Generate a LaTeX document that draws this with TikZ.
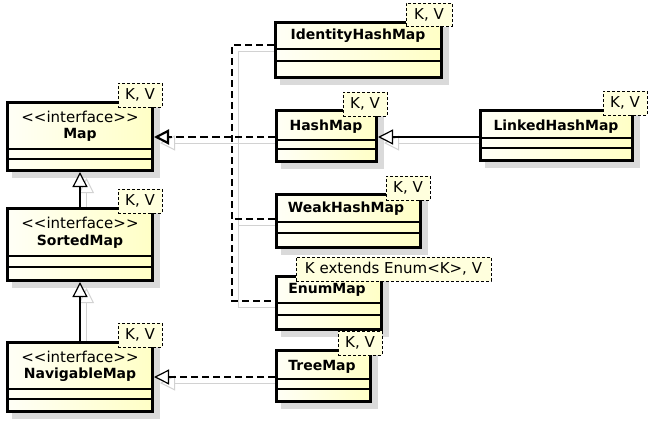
\documentclass[tikz,border=0pt]{standalone}
\usepackage{fontspec}
\setmainfont{DejaVu Sans}
\usetikzlibrary{arrows.meta,calc}
\definecolor{boxlight}{HTML}{FFFFF6}
\definecolor{boxdark}{HTML}{FFFFC6}
\definecolor{tmplfill}{HTML}{FFFFDD}
\definecolor{shadowgray}{HTML}{DADADA}
\definecolor{lineshadow}{HTML}{D2D2D2}
\tikzset{
  classbox/.style={draw=black, line width=3.2pt, left color=boxlight, right color=boxdark, rectangle, inner sep=0pt},
  boxshadow/.style={fill=shadowgray, draw=none},
  divider/.style={draw=black, line width=1.1pt},
  txt/.style={inner sep=0pt, font=\fontsize{15}{17}\selectfont},
  nametxt/.style={inner sep=0pt, font=\fontsize{14}{16}\selectfont\bfseries},
  tmpl/.style={draw=black, dash pattern=on 3pt off 2pt, line width=0.8pt, fill=tmplfill, inner sep=0pt, font=\fontsize{15}{17}\selectfont},
  realline/.style={draw=black, line width=1.2pt, dash pattern=on 7pt off 4pt},
  realize/.style={realline, -{Triangle[open, length=15pt, width=15pt, fill=white]}},
  generalize/.style={draw=black, line width=1.2pt, -{Triangle[open, length=15pt, width=15pt, fill=white]}},
  cshadow/.style={draw=lineshadow, line width=1pt, -{Triangle[open, length=15pt, width=15pt]}},
  cshadowplain/.style={draw=lineshadow, line width=1pt},
}
% #1 name, #2 l, #3 t, #4 r, #5 b, #6 d1, #7 d2
\newcommand\umlclass[7]{%
  \fill[boxshadow] (#2+6,#3+6) rectangle (#4+6,#5+6);
  \node[classbox, minimum width=#4pt-#2pt-3.2pt, minimum height=#5pt-#3pt-3.2pt] (#1) at ({(#2+#4)/2},{(#3+#5)/2}) {};
  \draw[divider] (#1.west |- 0,#6) -- (#1.east |- 0,#6);
  \draw[divider] (#1.west |- 0,#7) -- (#1.east |- 0,#7);
}
% #1 name, #2 l, #3 t, #4 r, #5 b, #6 text
\newcommand\umltmpl[6]{%
  \node[tmpl, minimum width=#4pt-#2pt, minimum height=#5pt-#3pt] (#1) at ({(#2+#4)/2},{(#3+#5)/2}) {#6};
}
\newcommand\stereo{<{}<interface>{}>}
\begin{document}
\begin{tikzpicture}[x=1pt,y=-1pt]
\useasboundingbox (0,0) rectangle (657,434);

% connector coordinates
\coordinate (busA) at (232,45);
\coordinate (busB) at (232,137);
\coordinate (busC) at (232,219);
\coordinate (busD) at (232,301);

% connector shadows
\draw[cshadowplain] ([shift={(6,6)}]busA) -- ([shift={(6,6)}]busD);
\draw[cshadowplain] ([shift={(6,6)}]busA) -- ++(38,0);
\draw[cshadowplain] ([shift={(6,6)}]busC) -- ++(38,0);
\draw[cshadowplain] ([shift={(6,6)}]busD) -- ++(38,0);
\draw[cshadow] ($(275,137)+(6,6)$) -- ($(154,137)+(6,6)$);
\draw[cshadow] ($(479,137)+(6,6)$) -- ($(378,137)+(6,6)$);
\draw[cshadow] ($(275,377)+(6,6)$) -- ($(154,377)+(6,6)$);
\draw[cshadow] ($(80.5,207)+(6,6)$) -- ($(80.5,172)+(6,6)$);
\draw[cshadow] ($(80.5,341)+(6,6)$) -- ($(80.5,282)+(6,6)$);

% classes
\umlclass{map}{6}{101}{154}{172}{149}{159}
\umlclass{sorted}{6}{207}{154}{282}{256}{267}
\umlclass{navig}{6}{341}{154}{413}{389}{399}
\umlclass{idhm}{274}{21}{443}{79}{49}{61}
\umlclass{hm}{275}{109}{378}{163}{140}{149}
\umlclass{lhm}{479}{109}{634}{162}{138}{148}
\umlclass{whm}{275}{193}{422}{249}{222}{233}
\umlclass{em}{275}{275}{383}{331}{303}{315}
\umlclass{tm}{275}{349}{372}{403}{379}{389}

% texts
\node[txt] (mapst) at (80,117) {\stereo};
\node[nametxt] (mapnm) at (80,135) {Map};
\node[txt] (sortedst) at (80,223) {\stereo};
\node[nametxt] (sortednm) at (80,242) {SortedMap};
\node[txt] (navigst) at (80,357) {\stereo};
\node[nametxt] (navignm) at (80,375) {NavigableMap};
\node[nametxt] (idhmnm) at (358,36) {IdentityHashMap};
\node[nametxt] (hmnm) at (326,127) {HashMap};
\node[nametxt] (lhmnm) at (556,127) {LinkedHashMap};
\node[nametxt] (whmnm) at (346,209) {WeakHashMap};
\node[nametxt] (emnm) at (327,290) {EnumMap};
\node[nametxt] (tmnm) at (322,367) {TreeMap};

% connectors
\draw[generalize] (sorted.north) -- (map.south);
\draw[generalize] (navig.north) -- (sorted.south);
\draw[generalize] (lhm.west |- 0,137) -- (hm.east |- 0,137);
\draw[realline] (idhm.west |- busA) -- (busA) -- (busD) -- (em.west |- busD);
\draw[realline] (whm.west |- busC) -- (busC);
\draw[realline] (hm.west |- busB) -- (busB);
\draw[realize, line width=2.2pt, dash pattern=on 8pt off 4pt] (busB) -- (map.east |- busB);
\draw[realize] (tm.west |- 0,377) -- (navig.east |- 0,377);

% templates
\umltmpl{maptp}{118}{83}{162}{107}{K, V}
\umltmpl{sortedtp}{118}{189}{162}{213}{K, V}
\umltmpl{navigtp}{118}{323}{162}{347}{K, V}
\umltmpl{idhmtp}{406}{3}{452}{26}{K, V}
\umltmpl{hmtp}{343}{92}{387}{116}{K, V}
\umltmpl{lhmtp}{603}{91}{647}{115}{K, V}
\umltmpl{whmtp}{386}{176}{430}{200}{K, V}
\umltmpl{emtp}{296}{257}{491}{281}{K extends Enum<K>, V}
\umltmpl{tmtp}{338}{331}{382}{355}{K, V}
\end{tikzpicture}
\end{document}
